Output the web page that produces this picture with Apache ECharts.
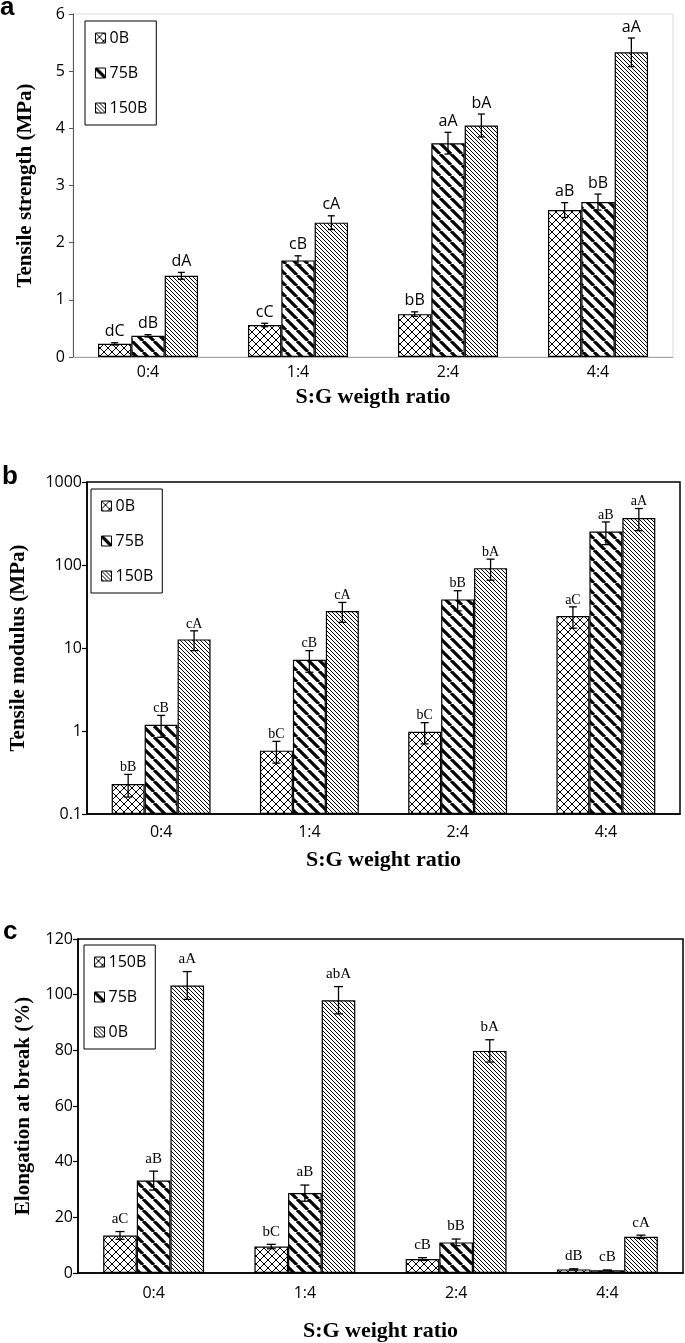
<!DOCTYPE html>
<html><head><meta charset="utf-8">
<script src="https://cdn.jsdelivr.net/npm/echarts@6/dist/echarts.min.js"></script>
<style>html,body{margin:0;padding:0;background:#fff}#chart{width:685px;height:1343px}</style>
</head><body><div id="chart"></div>
<script>
const categories = ['0:4', '1:4', '2:4', '4:4'];

// (a) Tensile strength (MPa)
const aNames = ['0B', '75B', '150B'];
const ts0B = [0.23, 0.56, 0.75, 2.57];
const ts75B = [0.37, 1.69, 3.74, 2.71];
const ts150B = [1.42, 2.35, 4.05, 5.33];
const ts0BErr = [0.02, 0.03, 0.04, 0.13];
const ts75BErr = [0.02, 0.08, 0.19, 0.14];
const ts150BErr = [0.06, 0.12, 0.20, 0.25];
const ts0BLab = ['dC', 'cC', 'bB', 'aB'];
const ts75BLab = ['dB', 'cB', 'aA', 'bB'];
const ts150BLab = ['dA', 'cA', 'bA', 'aA'];

// (b) Tensile modulus (MPa), log scale
const bNames = ['0B', '75B', '150B'];
const tm0B = [0.23, 0.58, 0.98, 24.3];
const tm75B = [1.19, 7.2, 38.5, 253];
const tm150B = [12.7, 27.9, 91.6, 369];
const tm0BErr = [0.07, 0.17, 0.28, 7];
const tm75BErr = [0.35, 2.1, 10.5, 77];
const tm150BErr = [3.4, 7.5, 26, 110];
const tm0BLab = ['bB', 'bC', 'bC', 'aC'];
const tm75BLab = ['cB', 'cB', 'bB', 'aB'];
const tm150BLab = ['cA', 'cA', 'bA', 'aA'];

// (c) Elongation at break (%)
const cNames = ['150B', '75B', '0B'];
const el150B = [13.5, 9.5, 5.0, 1.3];
const el75B = [33.2, 28.7, 11.0, 0.95];
const el0B = [103.3, 98.0, 79.8, 13.0];
const el150BErr = [1.4, 0.8, 0.5, 0.2];
const el75BErr = [3.4, 2.9, 1.2, 0.15];
const el0BErr = [5.0, 4.9, 4.0, 0.6];
const el150BLab = ['aC', 'bC', 'cB', 'dB'];
const el75BLab = ['aB', 'aB', 'bB', 'cB'];
const el0BLab = ['aA', 'abA', 'bA', 'cA'];

function makePattern(kind) {
  const s = kind === 'cross' ? 8 : kind === 'thick' ? 11 : 4;
  const c = document.createElement('canvas');
  c.width = s; c.height = s;
  const g = c.getContext('2d');
  g.fillStyle = '#fff'; g.fillRect(0, 0, s, s);
  g.strokeStyle = '#000';
  g.lineWidth = kind === 'thick' ? 3.2 : 1;
  g.beginPath();
  for (const o of [-s, 0, s]) { g.moveTo(o, 0); g.lineTo(o + s, s); }
  if (kind === 'cross') { for (const o of [-s, 0, s]) { g.moveTo(o, s); g.lineTo(o + s, 0); } }
  g.stroke();
  return c;
}
const PAT = { cross: makePattern('cross'), thick: makePattern('thick'), thin: makePattern('thin') };
const fill = p => ({ image: PAT[p], repeat: 'repeat' });

function panelSeries(panel, gi, names, vals, errs, labs, pats, cfg) {
  const out = [];
  names.forEach((n, k) => {
    out.push({
      type: 'bar', name: panel + ':' + n, xAxisIndex: gi, yAxisIndex: gi, data: vals[k],
      barGap: '0%', barCategoryGap: '33.3%',
      itemStyle: { color: fill(pats[k]), borderColor: '#000', borderWidth: 1.2 },
      silent: true, animation: false
    });
  });
  names.forEach((n, k) => {
    out.push({
      type: 'custom', xAxisIndex: gi, yAxisIndex: gi, silent: true, animation: false, z: 10,
      data: vals[k].map((v, i) => [i, v]),
      renderItem: (params, api) => {
        const i = params.dataIndex, v = vals[k][i], e = errs[k][i];
        const band = api.size([1, 0])[0];
        const bw = band * (1 - 0.333) / 3;
        const cx = api.coord([i, v])[0] + (k - 1) * bw;
        const lo = cfg.log ? Math.max(v - e, v * 0.05) : v - e;
        const yT = api.coord([i, v + e])[1], yB = api.coord([i, lo])[1];
        const cap = cfg.cap, st = { stroke: '#000', lineWidth: 1.3 };
        return {
          type: 'group', children: [
            { type: 'line', shape: { x1: cx, y1: yT, x2: cx, y2: yB }, style: st },
            { type: 'line', shape: { x1: cx - cap, y1: yT, x2: cx + cap, y2: yT }, style: st },
            { type: 'line', shape: { x1: cx - cap, y1: yB, x2: cx + cap, y2: yB }, style: st },
            { type: 'text', style: { text: labs[k][i], x: cx, y: yT - cfg.gap, align: 'center', verticalAlign: 'bottom', fill: '#000', fontSize: cfg.size, fontFamily: cfg.family } }
          ]
        };
      }
    });
  });
  return out;
}

const sans = 'Open Sans';
const serif = 'Liberation Serif';
const nameStyle = { fontFamily: serif, fontWeight: 'bold', fontSize: 21, color: '#000' };
const tickStyle = { fontFamily: sans, fontSize: 16, color: '#000' };

function legendCfg(panel, names, left, top) {
  return {
    data: names.map(n => panel + ':' + n), orient: 'vertical', left, top,
    itemWidth: 10, itemHeight: 10, itemGap: 19, padding: [9, 9, 9, 10],
    borderColor: '#000', borderWidth: 1, icon: 'rect', selectedMode: false,
    formatter: n => n.split(':')[1],
    itemStyle: { borderColor: '#000', borderWidth: 1 },
    textStyle: { fontFamily: sans, fontSize: 16, color: '#000', padding: [0, 0, 0, -1] }
  };
}

const series = [].concat(
  panelSeries('a', 0, aNames, [ts0B, ts75B, ts150B], [ts0BErr, ts75BErr, ts150BErr], [ts0BLab, ts75BLab, ts150BLab], ['cross', 'thick', 'thin'], { log: false, cap: 3.5, gap: 3, size: 16, family: sans }),
  panelSeries('b', 1, bNames, [tm0B, tm75B, tm150B], [tm0BErr, tm75BErr, tm150BErr], [tm0BLab, tm75BLab, tm150BLab], ['cross', 'thick', 'thin'], { log: true, cap: 4, gap: 0, size: 14, family: serif }),
  panelSeries('c', 2, cNames, [el150B, el75B, el0B], [el150BErr, el75BErr, el0BErr], [el150BLab, el75BLab, el0BLab], ['cross', 'thick', 'thin'], { log: false, cap: 4.5, gap: 5, size: 15, family: serif })
);

const option = {
  backgroundColor: '#fff',
  animation: false,
  grid: [
    { left: 73, top: 14, width: 600, height: 343, show: true, borderColor: '#d9d9d9', borderWidth: 1, containLabel: false },
    { left: 78, top: 482, width: 602, height: 332, show: true, borderColor: '#000', borderWidth: 1.5, containLabel: false },
    { left: 78, top: 939, width: 605, height: 335, show: true, borderColor: '#000', borderWidth: 1.5, containLabel: false }
  ],
  xAxis: [
    { type: 'category', gridIndex: 0, data: categories, axisTick: { show: false }, axisLine: { lineStyle: { color: '#a6a6a6', width: 1 } }, axisLabel: { ...tickStyle, margin: 7 },
      name: 'S:G weigth ratio', nameLocation: 'middle', nameGap: 29, nameTextStyle: { ...nameStyle, fontSize: 22 } },
    { type: 'category', gridIndex: 1, data: categories, axisTick: { show: false }, axisLine: { lineStyle: { color: '#000', width: 1.5 } }, axisLabel: { ...tickStyle, margin: 10 },
      name: 'S:G weight ratio', nameLocation: 'middle', nameGap: 35, nameTextStyle: { ...nameStyle, fontSize: 22 } },
    { type: 'category', gridIndex: 2, data: categories, axisTick: { show: false }, axisLine: { lineStyle: { color: '#000', width: 1.5 } }, axisLabel: { ...tickStyle, margin: 12 },
      name: 'S:G weight ratio', nameLocation: 'middle', nameGap: 47, nameTextStyle: { ...nameStyle, fontSize: 22 } }
  ],
  yAxis: [
    { type: 'value', gridIndex: 0, min: 0, max: 6, interval: 1, splitLine: { show: false },
      axisLine: { show: true, lineStyle: { color: '#595959', width: 1 } }, axisTick: { show: true, length: 4, lineStyle: { color: '#595959' } },
      axisLabel: { ...tickStyle, margin: 8 },
      name: 'Tensile strength (MPa)', nameLocation: 'middle', nameGap: 37, nameTextStyle: nameStyle },
    { type: 'log', gridIndex: 1, min: 0.1, max: 1000, logBase: 10, startValue: 0.1, splitLine: { show: false },
      axisLine: { show: true, lineStyle: { color: '#000', width: 1.5 } }, axisTick: { show: true, length: 5, lineStyle: { color: '#000', width: 1.2 } },
      axisLabel: { ...tickStyle, margin: 5, formatter: v => String(+(+v).toPrecision(3)) },
      name: 'Tensile modulus (MPa)', nameLocation: 'middle', nameGap: 58, nameTextStyle: nameStyle },
    { type: 'value', gridIndex: 2, min: 0, max: 120, interval: 20, splitLine: { show: false },
      axisLine: { show: true, lineStyle: { color: '#000', width: 1.5 } }, axisTick: { show: true, length: 5, lineStyle: { color: '#000', width: 1.2 } },
      axisLabel: { ...tickStyle, margin: 5 },
      name: 'Elongation at break (%)', nameLocation: 'middle', nameGap: 44, nameTextStyle: nameStyle }
  ],
  legend: [
    legendCfg('a', aNames, 85, 21),
    legendCfg('b', bNames, 91, 489),
    legendCfg('c', cNames, 84, 945)
  ],
  graphic: [
    { type: 'text', x: 0, y: 21, style: { text: 'a', fontFamily: 'Liberation Sans', fontWeight: 'bold', fontSize: 26, fill: '#000', verticalAlign: 'bottom' } },
    { type: 'text', x: 2, y: 490, style: { text: 'b', fontFamily: 'Liberation Sans', fontWeight: 'bold', fontSize: 26, fill: '#000', verticalAlign: 'bottom' } },
    { type: 'text', x: 3, y: 945, style: { text: 'c', fontFamily: 'Liberation Sans', fontWeight: 'bold', fontSize: 26, fill: '#000', verticalAlign: 'bottom' } }
  ],
  series
};

const chart = echarts.init(document.getElementById('chart'), null, { renderer: 'canvas' });
chart.setOption(option);
</script>
</body></html>
